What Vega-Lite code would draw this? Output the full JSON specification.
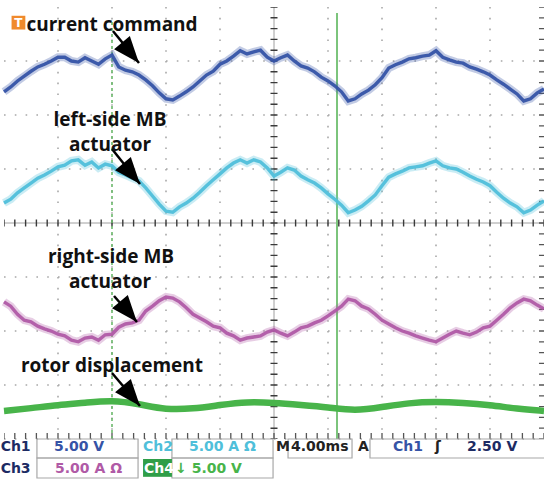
{
"$schema":"https://vega.github.io/schema/vega-lite/v6.json",
"width":540,"height":473,
"autosize":{"type":"none"},
"padding":{"left":4,"top":7,"right":0,"bottom":0},
"background":"white",
"config":{"view":{"stroke":null},"axis":{"disable":true},"legend":{"disable":true}},
"data":{"values":[{}]},
"datasets":{
"traces":[
{"ch":"Ch1","t":-20,"v":2.43},{"ch":"Ch1","t":-19.5,"v":2.52},{"ch":"Ch1","t":-19,"v":2.63},{"ch":"Ch1","t":-18.5,"v":2.72},{"ch":"Ch1","t":-18,"v":2.81},{"ch":"Ch1","t":-17.5,"v":2.89},{"ch":"Ch1","t":-17,"v":2.94},{"ch":"Ch1","t":-16.5,"v":3.0},{"ch":"Ch1","t":-16,"v":3.07},{"ch":"Ch1","t":-15.5,"v":3.07},{"ch":"Ch1","t":-15,"v":3.0},{"ch":"Ch1","t":-14.5,"v":2.98},{"ch":"Ch1","t":-14,"v":3.06},{"ch":"Ch1","t":-13.5,"v":3.0},{"ch":"Ch1","t":-13,"v":2.94},{"ch":"Ch1","t":-12.5,"v":3.04},{"ch":"Ch1","t":-12,"v":3.11},{"ch":"Ch1","t":-11.5,"v":2.89},{"ch":"Ch1","t":-11,"v":2.83},{"ch":"Ch1","t":-10.5,"v":2.8},{"ch":"Ch1","t":-10,"v":2.74},{"ch":"Ch1","t":-9.5,"v":2.65},{"ch":"Ch1","t":-9,"v":2.54},{"ch":"Ch1","t":-8.5,"v":2.41},{"ch":"Ch1","t":-8,"v":2.3},{"ch":"Ch1","t":-7.5,"v":2.28},{"ch":"Ch1","t":-7,"v":2.35},{"ch":"Ch1","t":-6.5,"v":2.43},{"ch":"Ch1","t":-6,"v":2.52},{"ch":"Ch1","t":-5.5,"v":2.63},{"ch":"Ch1","t":-5,"v":2.74},{"ch":"Ch1","t":-4.5,"v":2.81},{"ch":"Ch1","t":-4,"v":2.94},{"ch":"Ch1","t":-3.5,"v":3.0},{"ch":"Ch1","t":-3,"v":3.09},{"ch":"Ch1","t":-2.5,"v":3.19},{"ch":"Ch1","t":-2,"v":3.13},{"ch":"Ch1","t":-1.5,"v":3.17},{"ch":"Ch1","t":-1,"v":3.2},{"ch":"Ch1","t":-0.5,"v":3.07},{"ch":"Ch1","t":0,"v":3.0},{"ch":"Ch1","t":0.5,"v":3.06},{"ch":"Ch1","t":1,"v":3.11},{"ch":"Ch1","t":1.5,"v":3.0},{"ch":"Ch1","t":2,"v":2.91},{"ch":"Ch1","t":2.5,"v":2.87},{"ch":"Ch1","t":3,"v":2.8},{"ch":"Ch1","t":3.5,"v":2.7},{"ch":"Ch1","t":4,"v":2.63},{"ch":"Ch1","t":4.5,"v":2.54},{"ch":"Ch1","t":5,"v":2.43},{"ch":"Ch1","t":5.5,"v":2.26},{"ch":"Ch1","t":6,"v":2.3},{"ch":"Ch1","t":6.5,"v":2.39},{"ch":"Ch1","t":7,"v":2.46},{"ch":"Ch1","t":7.5,"v":2.56},{"ch":"Ch1","t":8,"v":2.69},{"ch":"Ch1","t":8.5,"v":2.87},{"ch":"Ch1","t":9,"v":2.93},{"ch":"Ch1","t":9.5,"v":2.98},{"ch":"Ch1","t":10,"v":3.04},{"ch":"Ch1","t":10.5,"v":3.06},{"ch":"Ch1","t":11,"v":3.09},{"ch":"Ch1","t":11.5,"v":3.11},{"ch":"Ch1","t":12,"v":3.19},{"ch":"Ch1","t":12.5,"v":3.07},{"ch":"Ch1","t":13,"v":3.02},{"ch":"Ch1","t":13.5,"v":2.98},{"ch":"Ch1","t":14,"v":2.96},{"ch":"Ch1","t":14.5,"v":2.89},{"ch":"Ch1","t":15,"v":2.85},{"ch":"Ch1","t":15.5,"v":2.8},{"ch":"Ch1","t":16,"v":2.74},{"ch":"Ch1","t":16.5,"v":2.65},{"ch":"Ch1","t":17,"v":2.57},{"ch":"Ch1","t":17.5,"v":2.48},{"ch":"Ch1","t":18,"v":2.39},{"ch":"Ch1","t":18.5,"v":2.26},{"ch":"Ch1","t":19,"v":2.3},{"ch":"Ch1","t":19.5,"v":2.41},{"ch":"Ch1","t":20,"v":2.48},
{"ch":"Ch2","t":-20,"v":0.37},{"ch":"Ch2","t":-19.5,"v":0.44},{"ch":"Ch2","t":-19,"v":0.56},{"ch":"Ch2","t":-18.5,"v":0.65},{"ch":"Ch2","t":-18,"v":0.74},{"ch":"Ch2","t":-17.5,"v":0.83},{"ch":"Ch2","t":-17,"v":0.89},{"ch":"Ch2","t":-16.5,"v":0.96},{"ch":"Ch2","t":-16,"v":1.04},{"ch":"Ch2","t":-15.5,"v":1.07},{"ch":"Ch2","t":-15,"v":1.15},{"ch":"Ch2","t":-14.5,"v":1.17},{"ch":"Ch2","t":-14,"v":1.07},{"ch":"Ch2","t":-13.5,"v":1.13},{"ch":"Ch2","t":-13,"v":1.02},{"ch":"Ch2","t":-12.5,"v":1.09},{"ch":"Ch2","t":-12,"v":1.06},{"ch":"Ch2","t":-11.5,"v":0.94},{"ch":"Ch2","t":-11,"v":0.89},{"ch":"Ch2","t":-10.5,"v":0.83},{"ch":"Ch2","t":-10,"v":0.78},{"ch":"Ch2","t":-9.5,"v":0.65},{"ch":"Ch2","t":-9,"v":0.5},{"ch":"Ch2","t":-8.5,"v":0.35},{"ch":"Ch2","t":-8,"v":0.22},{"ch":"Ch2","t":-7.5,"v":0.2},{"ch":"Ch2","t":-7,"v":0.3},{"ch":"Ch2","t":-6.5,"v":0.37},{"ch":"Ch2","t":-6,"v":0.46},{"ch":"Ch2","t":-5.5,"v":0.57},{"ch":"Ch2","t":-5,"v":0.69},{"ch":"Ch2","t":-4.5,"v":0.8},{"ch":"Ch2","t":-4,"v":0.91},{"ch":"Ch2","t":-3.5,"v":1.02},{"ch":"Ch2","t":-3,"v":1.11},{"ch":"Ch2","t":-2.5,"v":1.17},{"ch":"Ch2","t":-2,"v":1.11},{"ch":"Ch2","t":-1.5,"v":1.17},{"ch":"Ch2","t":-1,"v":1.13},{"ch":"Ch2","t":-0.5,"v":1.02},{"ch":"Ch2","t":0,"v":0.87},{"ch":"Ch2","t":0.5,"v":0.94},{"ch":"Ch2","t":1,"v":1.02},{"ch":"Ch2","t":1.5,"v":0.98},{"ch":"Ch2","t":2,"v":0.87},{"ch":"Ch2","t":2.5,"v":0.8},{"ch":"Ch2","t":3,"v":0.74},{"ch":"Ch2","t":3.5,"v":0.65},{"ch":"Ch2","t":4,"v":0.54},{"ch":"Ch2","t":4.5,"v":0.44},{"ch":"Ch2","t":5,"v":0.33},{"ch":"Ch2","t":5.5,"v":0.19},{"ch":"Ch2","t":6,"v":0.24},{"ch":"Ch2","t":6.5,"v":0.31},{"ch":"Ch2","t":7,"v":0.41},{"ch":"Ch2","t":7.5,"v":0.52},{"ch":"Ch2","t":8,"v":0.69},{"ch":"Ch2","t":8.5,"v":0.85},{"ch":"Ch2","t":9,"v":0.91},{"ch":"Ch2","t":9.5,"v":0.96},{"ch":"Ch2","t":10,"v":1.02},{"ch":"Ch2","t":10.5,"v":1.04},{"ch":"Ch2","t":11,"v":1.06},{"ch":"Ch2","t":11.5,"v":1.11},{"ch":"Ch2","t":12,"v":1.15},{"ch":"Ch2","t":12.5,"v":1.06},{"ch":"Ch2","t":13,"v":1.02},{"ch":"Ch2","t":13.5,"v":1.0},{"ch":"Ch2","t":14,"v":0.94},{"ch":"Ch2","t":14.5,"v":0.87},{"ch":"Ch2","t":15,"v":0.81},{"ch":"Ch2","t":15.5,"v":0.76},{"ch":"Ch2","t":16,"v":0.69},{"ch":"Ch2","t":16.5,"v":0.57},{"ch":"Ch2","t":17,"v":0.46},{"ch":"Ch2","t":17.5,"v":0.37},{"ch":"Ch2","t":18,"v":0.3},{"ch":"Ch2","t":18.5,"v":0.19},{"ch":"Ch2","t":19,"v":0.24},{"ch":"Ch2","t":19.5,"v":0.33},{"ch":"Ch2","t":20,"v":0.41},
{"ch":"Ch3","t":-20,"v":-1.46},{"ch":"Ch3","t":-19.5,"v":-1.54},{"ch":"Ch3","t":-19,"v":-1.69},{"ch":"Ch3","t":-18.5,"v":-1.8},{"ch":"Ch3","t":-18,"v":-1.83},{"ch":"Ch3","t":-17.5,"v":-1.91},{"ch":"Ch3","t":-17,"v":-1.96},{"ch":"Ch3","t":-16.5,"v":-2.0},{"ch":"Ch3","t":-16,"v":-2.06},{"ch":"Ch3","t":-15.5,"v":-2.09},{"ch":"Ch3","t":-15,"v":-2.17},{"ch":"Ch3","t":-14.5,"v":-2.2},{"ch":"Ch3","t":-14,"v":-2.13},{"ch":"Ch3","t":-13.5,"v":-2.11},{"ch":"Ch3","t":-13,"v":-2.17},{"ch":"Ch3","t":-12.5,"v":-2.07},{"ch":"Ch3","t":-12,"v":-2.06},{"ch":"Ch3","t":-11.5,"v":-1.93},{"ch":"Ch3","t":-11,"v":-1.87},{"ch":"Ch3","t":-10.5,"v":-1.85},{"ch":"Ch3","t":-10,"v":-1.8},{"ch":"Ch3","t":-9.5,"v":-1.63},{"ch":"Ch3","t":-9,"v":-1.54},{"ch":"Ch3","t":-8.5,"v":-1.44},{"ch":"Ch3","t":-8,"v":-1.37},{"ch":"Ch3","t":-7.5,"v":-1.39},{"ch":"Ch3","t":-7,"v":-1.46},{"ch":"Ch3","t":-6.5,"v":-1.57},{"ch":"Ch3","t":-6,"v":-1.69},{"ch":"Ch3","t":-5.5,"v":-1.76},{"ch":"Ch3","t":-5,"v":-1.83},{"ch":"Ch3","t":-4.5,"v":-1.91},{"ch":"Ch3","t":-4,"v":-1.94},{"ch":"Ch3","t":-3.5,"v":-2.04},{"ch":"Ch3","t":-3,"v":-2.09},{"ch":"Ch3","t":-2.5,"v":-2.17},{"ch":"Ch3","t":-2,"v":-2.13},{"ch":"Ch3","t":-1.5,"v":-2.11},{"ch":"Ch3","t":-1,"v":-2.09},{"ch":"Ch3","t":-0.5,"v":-2.02},{"ch":"Ch3","t":0,"v":-1.98},{"ch":"Ch3","t":0.5,"v":-2.04},{"ch":"Ch3","t":1,"v":-2.09},{"ch":"Ch3","t":1.5,"v":-2.02},{"ch":"Ch3","t":2,"v":-1.94},{"ch":"Ch3","t":2.5,"v":-1.91},{"ch":"Ch3","t":3,"v":-1.85},{"ch":"Ch3","t":3.5,"v":-1.8},{"ch":"Ch3","t":4,"v":-1.72},{"ch":"Ch3","t":4.5,"v":-1.63},{"ch":"Ch3","t":5,"v":-1.54},{"ch":"Ch3","t":5.5,"v":-1.41},{"ch":"Ch3","t":6,"v":-1.44},{"ch":"Ch3","t":6.5,"v":-1.54},{"ch":"Ch3","t":7,"v":-1.59},{"ch":"Ch3","t":7.5,"v":-1.69},{"ch":"Ch3","t":8,"v":-1.8},{"ch":"Ch3","t":8.5,"v":-1.87},{"ch":"Ch3","t":9,"v":-1.94},{"ch":"Ch3","t":9.5,"v":-2.0},{"ch":"Ch3","t":10,"v":-2.04},{"ch":"Ch3","t":10.5,"v":-2.09},{"ch":"Ch3","t":11,"v":-2.13},{"ch":"Ch3","t":11.5,"v":-2.17},{"ch":"Ch3","t":12,"v":-2.2},{"ch":"Ch3","t":12.5,"v":-2.13},{"ch":"Ch3","t":13,"v":-2.06},{"ch":"Ch3","t":13.5,"v":-2.0},{"ch":"Ch3","t":14,"v":-2.04},{"ch":"Ch3","t":14.5,"v":-2.07},{"ch":"Ch3","t":15,"v":-2.02},{"ch":"Ch3","t":15.5,"v":-1.94},{"ch":"Ch3","t":16,"v":-1.91},{"ch":"Ch3","t":16.5,"v":-1.8},{"ch":"Ch3","t":17,"v":-1.69},{"ch":"Ch3","t":17.5,"v":-1.57},{"ch":"Ch3","t":18,"v":-1.48},{"ch":"Ch3","t":18.5,"v":-1.41},{"ch":"Ch3","t":19,"v":-1.44},{"ch":"Ch3","t":19.5,"v":-1.52},{"ch":"Ch3","t":20,"v":-1.59},
{"ch":"Ch4","t":-20,"v":-3.48},{"ch":"Ch4","t":-18,"v":-3.43},{"ch":"Ch4","t":-16,"v":-3.37},{"ch":"Ch4","t":-14,"v":-3.33},{"ch":"Ch4","t":-12,"v":-3.28},{"ch":"Ch4","t":-10,"v":-3.35},{"ch":"Ch4","t":-8,"v":-3.46},{"ch":"Ch4","t":-6,"v":-3.44},{"ch":"Ch4","t":-4,"v":-3.37},{"ch":"Ch4","t":-2,"v":-3.31},{"ch":"Ch4","t":0,"v":-3.33},{"ch":"Ch4","t":2,"v":-3.37},{"ch":"Ch4","t":4,"v":-3.41},{"ch":"Ch4","t":6,"v":-3.48},{"ch":"Ch4","t":8,"v":-3.41},{"ch":"Ch4","t":10,"v":-3.33},{"ch":"Ch4","t":12,"v":-3.31},{"ch":"Ch4","t":14,"v":-3.33},{"ch":"Ch4","t":16,"v":-3.37},{"ch":"Ch4","t":18,"v":-3.44},{"ch":"Ch4","t":20,"v":-3.48}
],
"labels":[
{"label":"current command","t":-12.0,"v":3.56},
{"label":"left-side MB","t":-12.15,"v":1.8},
{"label":"actuator","t":-12.15,"v":1.33},
{"label":"right-side MB","t":-12.07,"v":-0.74},
{"label":"actuator","t":-12.15,"v":-1.2},
{"label":"rotor displacement","t":-12.0,"v":-2.76}
],
"arrows":[
{"x1":-11.93,"y1":3.556,"x2":-10.0,"y2":2.963},
{"x1":-12.0,"y1":1.37,"x2":-9.926,"y2":0.722},
{"x1":-11.85,"y1":-1.352,"x2":-10.15,"y2":-1.833},
{"x1":-12.0,"y1":-2.778,"x2":-9.926,"y2":-3.389}
],
"boxes":[
{"x1":-17.56,"x2":-10.07,"y1":-4.0,"y2":-4.352},
{"x1":-7.56,"x2":-0.07,"y1":-4.0,"y2":-4.352},
{"x1":1.04,"x2":5.78,"y1":-4.0,"y2":-4.352},
{"x1":7.11,"x2":21.2,"y1":-4.0,"y2":-4.352},
{"x1":-17.56,"x2":-10.07,"y1":-4.352,"y2":-4.722},
{"x1":-7.56,"x2":-0.07,"y1":-4.352,"y2":-4.722}
],
"status":[
{"txt":"Ch1","t":-20.25,"v":-4.15,"tone":"navy"},
{"txt":"5.00 V","t":-16.3,"v":-4.15,"tone":"Ch1"},
{"txt":"Ch2","t":-9.7,"v":-4.15,"tone":"Ch2"},
{"txt":"5.00 A Ω","t":-6.3,"v":-4.15,"tone":"Ch2"},
{"txt":"M","t":0.15,"v":-4.15,"tone":"ink"},
{"txt":"4.00ms","t":1.26,"v":-4.15,"tone":"ink"},
{"txt":"A","t":6.22,"v":-4.15,"tone":"ink"},
{"txt":"Ch1","t":8.81,"v":-4.15,"tone":"Ch1"},
{"txt":"ʃ","t":11.93,"v":-4.15,"tone":"ink"},
{"txt":"2.50 V","t":14.3,"v":-4.15,"tone":"navy"},
{"txt":"Ch3","t":-20.25,"v":-4.55,"tone":"navy"},
{"txt":"5.00 A Ω","t":-16.22,"v":-4.55,"tone":"Ch3"},
{"txt":"Ch4","t":-9.63,"v":-4.55,"tone":"white"},
{"txt":"↓ 5.00 V","t":-7.33,"v":-4.55,"tone":"Ch4"}
]
},
"layer":[
{"data":{"values":[{"g":-16},{"g":-12},{"g":-8},{"g":-4},{"g":4},{"g":8},{"g":12},{"g":16}]},
 "mark":{"type":"rule","color":"#a8a8a8","strokeWidth":1.6,"strokeDash":[1.6,9.2]},
 "encoding":{"x":{"field":"g","type":"quantitative","scale":{"domain":[-20,20],"nice":false,"zero":false}},"y":{"datum":4,"type":"quantitative","scale":{"domain":[-4.759,4],"nice":false,"zero":false}},"y2":{"datum":-4}}},
{"data":{"values":[{"h":3},{"h":2},{"h":1},{"h":-1},{"h":-2},{"h":-3}]},
 "mark":{"type":"rule","color":"#a8a8a8","strokeWidth":1.6,"strokeDash":[1.6,9.2]},
 "encoding":{"y":{"field":"h","type":"quantitative","scale":{"domain":[-4.759,4],"nice":false,"zero":false}},"x":{"datum":-20,"type":"quantitative","scale":{"domain":[-20,20],"nice":false,"zero":false}},"x2":{"datum":20}}},
{"mark":{"type":"rule","color":"#a0a0a0","strokeWidth":1},
 "encoding":{"y":{"datum":0,"type":"quantitative","scale":{"domain":[-4.759,4],"nice":false,"zero":false}},"x":{"datum":-20,"type":"quantitative","scale":{"domain":[-20,20],"nice":false,"zero":false}},"x2":{"datum":20}}},
{"mark":{"type":"rule","color":"#3a3a3a","strokeWidth":7,"strokeDash":[1.4,9.4],"strokeDashOffset":0.7},
 "encoding":{"y":{"datum":0,"type":"quantitative","scale":{"domain":[-4.759,4],"nice":false,"zero":false}},"x":{"datum":-20,"type":"quantitative","scale":{"domain":[-20,20],"nice":false,"zero":false}},"x2":{"datum":20}}},
{"mark":{"type":"rule","color":"#a0a0a0","strokeWidth":1},
 "encoding":{"x":{"datum":0,"type":"quantitative","scale":{"domain":[-20,20],"nice":false,"zero":false}},"y":{"datum":4,"type":"quantitative","scale":{"domain":[-4.759,4],"nice":false,"zero":false}},"y2":{"datum":-4}}},
{"mark":{"type":"rule","color":"#3a3a3a","strokeWidth":7,"strokeDash":[1.4,9.4],"strokeDashOffset":0.7},
 "encoding":{"x":{"datum":0,"type":"quantitative","scale":{"domain":[-20,20],"nice":false,"zero":false}},"y":{"datum":4,"type":"quantitative","scale":{"domain":[-4.759,4],"nice":false,"zero":false}},"y2":{"datum":-4}}},
{"mark":{"type":"rule","color":"#a8a8a8","strokeWidth":1.6,"strokeDash":[1.6,9.2]},
 "encoding":{"y":{"datum":-4,"type":"quantitative","scale":{"domain":[-4.759,4],"nice":false,"zero":false}},"x":{"datum":-20,"type":"quantitative","scale":{"domain":[-20,20],"nice":false,"zero":false}},"x2":{"datum":20}}},
{"mark":{"type":"rule","color":"#555555","strokeWidth":6,"strokeDash":[1.3,9.5],"strokeDashOffset":0.65},
 "encoding":{"y":{"datum":-3.945,"type":"quantitative","scale":{"domain":[-4.759,4],"nice":false,"zero":false}},"x":{"datum":-20,"type":"quantitative","scale":{"domain":[-20,20],"nice":false,"zero":false}},"x2":{"datum":20}}},
{"mark":{"type":"rule","color":"#555555","strokeWidth":6,"strokeDash":[1.3,9.5],"strokeDashOffset":0.65},
 "encoding":{"x":{"datum":19.85,"type":"quantitative","scale":{"domain":[-20,20],"nice":false,"zero":false}},"y":{"datum":4,"type":"quantitative","scale":{"domain":[-4.759,4],"nice":false,"zero":false}},"y2":{"datum":-4}}},
{"mark":{"type":"rule","color":"#6cb86c","strokeWidth":1.6,"strokeDash":[3,3]},
 "encoding":{"x":{"datum":-12,"type":"quantitative","scale":{"domain":[-20,20],"nice":false,"zero":false}},"y":{"datum":3.72,"type":"quantitative","scale":{"domain":[-4.759,4],"nice":false,"zero":false}},"y2":{"datum":-4}}},
{"mark":{"type":"rule","color":"#7cc47c","strokeWidth":2},
 "encoding":{"x":{"datum":4.667,"type":"quantitative","scale":{"domain":[-20,20],"nice":false,"zero":false}},"y":{"datum":3.89,"type":"quantitative","scale":{"domain":[-4.759,4],"nice":false,"zero":false}},"y2":{"datum":-4}}},
{"data":{"name":"traces"},"transform":[{"filter":"datum.ch !== 'Ch4'"}],
 "mark":{"type":"line","strokeWidth":8,"opacity":0.3},
 "encoding":{"x":{"field":"t","type":"quantitative","scale":{"domain":[-20,20],"nice":false,"zero":false}},"y":{"field":"v","type":"quantitative","scale":{"domain":[-4.759,4],"nice":false,"zero":false}},"color":{"field":"ch","type":"nominal","scale":{"domain":["Ch1","Ch2","Ch3","Ch4","navy","ink","white"],"range":["#3553a6","#4fbfda","#b05aa6","#48b44a","#1d2b63","#222222","#ffffff"]}},"detail":{"field":"ch"}}},
{"data":{"name":"traces"},"transform":[{"filter":"datum.ch !== 'Ch4'"}],
 "mark":{"type":"line","strokeWidth":3.4,"opacity":0.95},
 "encoding":{"x":{"field":"t","type":"quantitative","scale":{"domain":[-20,20],"nice":false,"zero":false}},"y":{"field":"v","type":"quantitative","scale":{"domain":[-4.759,4],"nice":false,"zero":false}},"color":{"field":"ch","type":"nominal"},"detail":{"field":"ch"}}},
{"data":{"name":"traces"},"transform":[{"filter":"datum.ch === 'Ch4'"}],
 "mark":{"type":"line","strokeWidth":6.5,"interpolate":"basis"},
 "encoding":{"x":{"field":"t","type":"quantitative","scale":{"domain":[-20,20],"nice":false,"zero":false}},"y":{"field":"v","type":"quantitative","scale":{"domain":[-4.759,4],"nice":false,"zero":false}},"color":{"field":"ch","type":"nominal"}}},
{"data":{"name":"arrows"},
 "mark":{"type":"rule","color":"#000000","strokeWidth":2.5},
 "encoding":{"x":{"field":"x1","type":"quantitative","scale":{"domain":[-20,20],"nice":false,"zero":false}},"y":{"field":"y1","type":"quantitative","scale":{"domain":[-4.759,4],"nice":false,"zero":false}},"x2":{"field":"x2"},"y2":{"field":"y2"}}},
{"data":{"name":"arrows"},
 "mark":{"type":"point","shape":"M0,0L0.62,1.6L-0.62,1.6Z","filled":true,"color":"#000000","opacity":1,"size":1100,"angle":140},
 "encoding":{"x":{"field":"x2","type":"quantitative","scale":{"domain":[-20,20],"nice":false,"zero":false}},"y":{"field":"y2","type":"quantitative","scale":{"domain":[-4.759,4],"nice":false,"zero":false}}}},
{"data":{"name":"labels"},
 "mark":{"type":"text","font":"Open Sans","fontWeight":"bold","fontSize":19,"color":"#111111","align":"center","baseline":"alphabetic"},
 "encoding":{"x":{"field":"t","type":"quantitative","scale":{"domain":[-20,20],"nice":false,"zero":false}},"y":{"field":"v","type":"quantitative","scale":{"domain":[-4.759,4],"nice":false,"zero":false}},"text":{"field":"label"}}},
{"mark":{"type":"square","color":"#f08a2c","filled":true,"opacity":1,"size":190},
 "encoding":{"x":{"datum":-18.93,"type":"quantitative","scale":{"domain":[-20,20],"nice":false,"zero":false}},"y":{"datum":3.71,"type":"quantitative","scale":{"domain":[-4.759,4],"nice":false,"zero":false}}}},
{"mark":{"type":"text","text":"T","font":"DejaVu Sans","fontWeight":"bold","fontSize":12,"color":"#ffffff","align":"center","baseline":"middle"},
 "encoding":{"x":{"datum":-18.93,"type":"quantitative","scale":{"domain":[-20,20],"nice":false,"zero":false}},"y":{"datum":3.71,"type":"quantitative","scale":{"domain":[-4.759,4],"nice":false,"zero":false}}}},
{"data":{"name":"boxes"},
 "mark":{"type":"rect","fill":"transparent","stroke":"#a8a8a8","strokeWidth":1.2},
 "encoding":{"x":{"field":"x1","type":"quantitative","scale":{"domain":[-20,20],"nice":false,"zero":false}},"x2":{"field":"x2"},"y":{"field":"y1","type":"quantitative","scale":{"domain":[-4.759,4],"nice":false,"zero":false}},"y2":{"field":"y2"}}},
{"mark":{"type":"rect","fill":"#2f9e48"},
 "encoding":{"x":{"datum":-9.7,"type":"quantitative","scale":{"domain":[-20,20],"nice":false,"zero":false}},"x2":{"datum":-7.56},"y":{"datum":-4.37,"type":"quantitative","scale":{"domain":[-4.759,4],"nice":false,"zero":false}},"y2":{"datum":-4.7}}},
{"data":{"name":"status"},
 "mark":{"type":"text","font":"DejaVu Sans","fontWeight":"bold","fontSize":14,"align":"left","baseline":"middle"},
 "encoding":{"x":{"field":"t","type":"quantitative","scale":{"domain":[-20,20],"nice":false,"zero":false}},"y":{"field":"v","type":"quantitative","scale":{"domain":[-4.759,4],"nice":false,"zero":false}},"text":{"field":"txt"},"color":{"field":"tone","type":"nominal"}}}
]
}
